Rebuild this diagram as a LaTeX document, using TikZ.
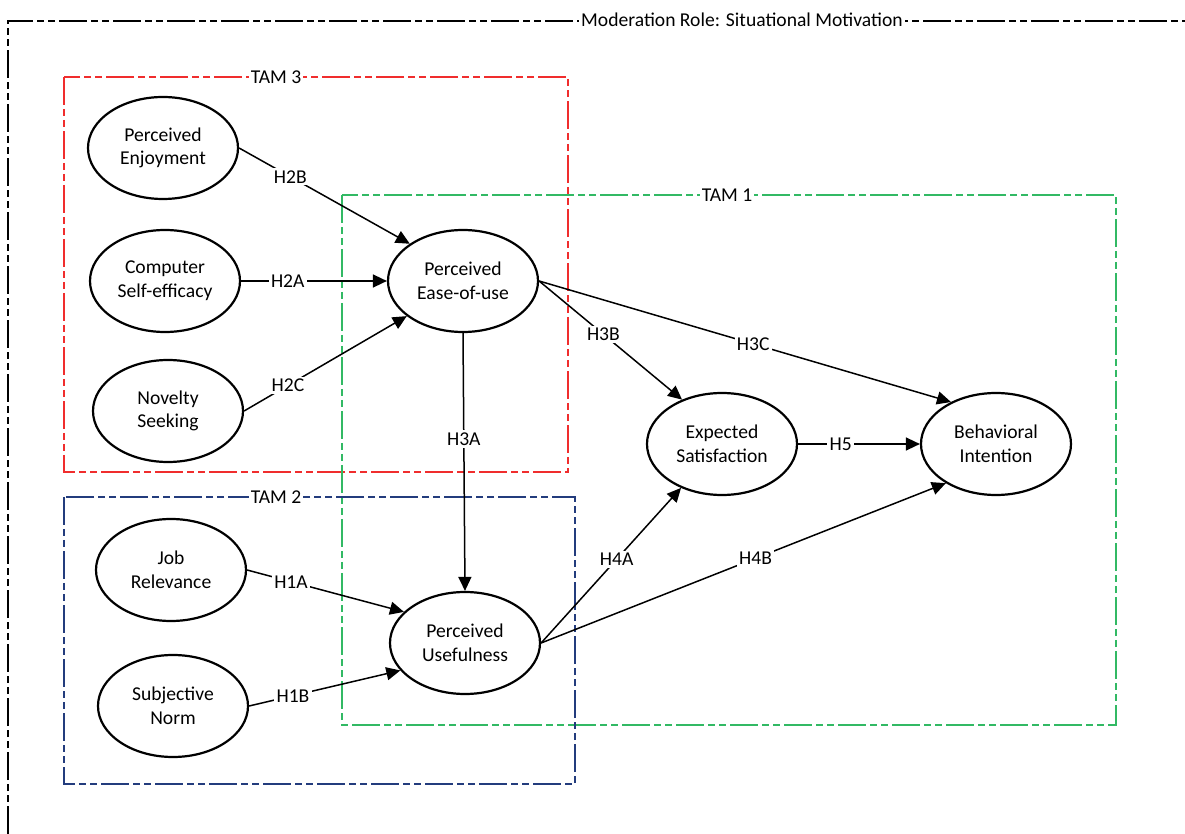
\documentclass[tikz,border=0pt]{standalone}
\usepackage{fontspec}
\setmainfont{Carlito}
\usepackage{xcolor}
\usepackage{tikz}
\usetikzlibrary{shapes.geometric, arrows.meta}

\definecolor{tamred}{RGB}{240,45,45}
\definecolor{tamgreen}{RGB}{50,185,100}
\definecolor{tamblue}{RGB}{35,60,125}
\newcommand{\tamfont}{\fontsize{9.8}{11.8}\selectfont}

\begin{document}
\begin{tikzpicture}[
        x=0.5pt, y=-0.5pt,
        construct/.style={ellipse, draw=black, line width=1.1pt, minimum width=75pt, minimum height=51pt, inner sep=1pt, align=center, font=\tamfont},
        hyp/.style={fill=white, inner sep=1.2pt, font=\tamfont},
        group/.style={line width=0.8pt, dash pattern=on 14pt off 2pt on 3.5pt off 2pt on 3.5pt off 2pt},
        grouplabel/.style={fill=white, inner sep=1pt, font=\tamfont},
        arrow/.style={line width=0.75pt, ->, >={Triangle[length=7pt, width=6.5pt]}}
    ]
    \useasboundingbox (0,0) rectangle (1185,834);

    % moderation frame and the three TAM groups
    \draw [group, black] (8,834) -- (8,21) -- (1185,21);
    \node (mod) [grouplabel] at (742,20) {Moderation Role: Situational Motivation};

    \draw [group, tamred] (64,77) rectangle (568,472);
    \draw [group, tamgreen] (342,195) rectangle (1116,725);
    \draw [group, tamblue] (64,497) rectangle (575,784);
    \node (tam3) [grouplabel] at (276,77) {TAM 3};
    \node (tam1) [grouplabel] at (727,195) {TAM 1};
    \node (tam2) [grouplabel] at (276,497) {TAM 2};

    % constructs
    \node (pe) [construct] at (163,148) {Perceived\\Enjoyment};
    \node (cse) [construct] at (165,281) {Computer\\Self-efficacy};
    \node (ns) [construct] at (168,411) {Novelty\\Seeking};
    \node (jr) [construct] at (171,570) {Job\\Relevance};
    \node (sn) [construct] at (173,706) {Subjective\\Norm};
    \node (peou) [construct] at (463,281) {Perceived\\Ease-of-use};
    \node (pu) [construct] at (465,643) {Perceived\\Usefulness};
    \node (es) [construct] at (722,444) {Expected\\Satisfaction};
    \node (bi) [construct] at (996,444) {Behavioral\\Intention};

    % hypotheses
    \draw [arrow] (pe.east) -- node[hyp, pos=0.3] {H2B} (peou.145);
    \draw [arrow] (cse.east) -- node[hyp, pos=0.32] {H2A} (peou.west);
    \draw [arrow] (ns.east) -- node[hyp, pos=0.27] {H2C} (peou.212);
    \draw [arrow] (jr.east) -- node[hyp, pos=0.28] {H1A} (pu.153);
    \draw [arrow] (sn.east) -- node[hyp, pos=0.29] {H1B} (pu.203);
    \draw [arrow] (peou.south) -- node[hyp, pos=0.41] {H3A} (pu.north);
    \draw [arrow] (peou.east) -- node[hyp, pos=0.45] {H3B} (es.132);
    \draw [arrow] (peou.east) -- node[hyp, pos=0.52] {H3C} (bi.137);
    \draw [arrow] (pu.east) -- node[hyp, pos=0.54] {H4A} (es.227);
    \draw [arrow] (pu.east) -- node[hyp, pos=0.53] {H4B} (bi.218);
    \draw [arrow] (es.east) -- node[hyp, pos=0.35] {H5} (bi.west);

    \end{tikzpicture}
\end{document}
